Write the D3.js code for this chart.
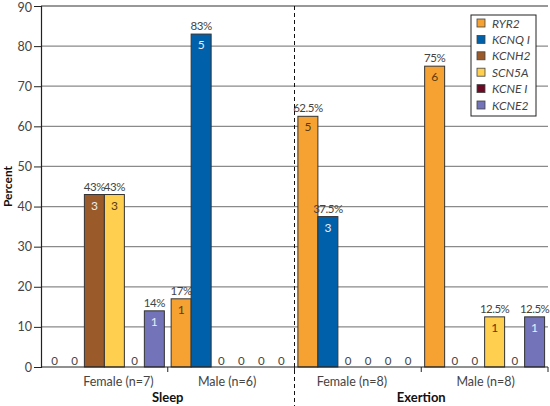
<!DOCTYPE html>
<html><head><meta charset="utf-8">
<script src="https://cdn.jsdelivr.net/npm/d3@7"></script>
<style>body{margin:0;background:#fff;} svg{display:block;font-family:Lato,"Open Sans",sans-serif;}</style>
</head><body><svg id="c" width="550" height="406"></svg>
<script>
const groups = ["Female (n=7)", "Male (n=6)", "Female (n=8)", "Male (n=8)"];
const genes = ["RYR2", "KCNQ1", "KCNH2", "SCN5A", "KCNE1", "KCNE2"];
const legendLabels = ["RYR2", "KCNQ I", "KCNH2", "SCN5A", "KCNE I", "KCNE2"];
const colors = ["#F5A233", "#0061AA", "#9B5A2A", "#FFCF4F", "#6B0A24", "#7273B9"];
const percentValues = [
  [0, 0, 43, 43, 0, 14],
  [17, 83, 0, 0, 0, 0],
  [62.5, 37.5, 0, 0, 0, 0],
  [75, 0, 0, 12.5, 0, 12.5]
];
const percentLabels = [
  ["0", "0", "43%", "43%", "0", "14%"],
  ["17%", "83%", "0", "0", "0", "0"],
  ["62.5%", "37.5%", "0", "0", "0", "0"],
  ["75%", "0", "0", "12.5%", "0", "12.5%"]
];
const counts = [
  [0, 0, 3, 3, 0, 1],
  [1, 5, 0, 0, 0, 0],
  [5, 3, 0, 0, 0, 0],
  [6, 0, 0, 1, 0, 1]
];
const conditions = ["Sleep", "Exertion"];
const yTicks = [0, 10, 20, 30, 40, 50, 60, 70, 80, 90];

const svg = d3.select("#c");
const L = 41, R = 548, T = 6, B = 367;
const labelShift = [14, -4, -6, 1]; // layout: category label offsets seen in the reference
const y = d3.scaleLinear().domain([0, 90]).range([B, T]);
const x0 = d3.scaleBand().domain(groups).range([L, R]).padding(0);
const x1 = d3.scaleBand().domain(genes).range([0, x0.bandwidth()]).paddingInner(0).paddingOuter(0.17);
const darkText = {RYR2: "#5a3a10", SCN5A: "#5a3a10"};

// gridlines
svg.append("g").selectAll("line").data(yTicks.filter(d => d > 0)).join("line")
  .attr("x1", L).attr("x2", R).attr("y1", d => y(d)).attr("y2", d => y(d))
  .attr("stroke", d => d === 90 ? "#333" : "#8a8a8a").attr("stroke-width", 1.2);

// y axis
const ya = svg.append("g").attr("transform", `translate(${L},0)`)
  .call(d3.axisLeft(y).tickValues(yTicks).tickSize(7).tickPadding(2));
ya.select(".domain").attr("stroke", "#222").attr("stroke-width", 1.2);
ya.selectAll(".tick line").attr("stroke", "#222");
ya.selectAll("text").attr("font-size", 12.5).attr("fill", "#444").attr("font-family", "Lato")
  .attr("dy", d => d === 90 ? "0.42em" : "0.32em");

// bars
const g = svg.append("g").selectAll("g").data(groups).join("g")
  .attr("transform", d => `translate(${x0(d)},0)`);
g.each(function(grp, gi) {
  const sel = d3.select(this);
  genes.forEach((gene, k) => {
    const v = percentValues[gi][k];
    const bx = x1(gene), bw = x1.bandwidth();
    if (v > 0) {
      sel.append("rect").attr("x", bx).attr("y", y(v)).attr("width", bw).attr("height", y(0) - y(v))
        .attr("fill", colors[k]).attr("stroke", "#333").attr("stroke-width", 1);
      sel.append("text").attr("x", bx + bw / 2).attr("y", y(v) + 15).attr("text-anchor", "middle")
        .attr("font-size", 12).attr("fill", darkText[gene] || "#e8eef8").text(counts[gi][k]);
    }
    sel.append("text").attr("x", bx + bw / 2).attr("y", v > 0 ? y(v) - 4 : y(0) - 2).attr("text-anchor", "middle")
      .attr("font-size", 11.5).attr("fill", "#444").attr("letter-spacing", -0.5).text(percentLabels[gi][k]);
  });
});

// x axis
const xa = svg.append("g").attr("transform", `translate(0,${B})`);
xa.append("line").attr("x1", L).attr("x2", R).attr("stroke", "#222").attr("stroke-width", 1.2);
xa.selectAll("line.t").data(groups.slice(1).concat(["end"])).join("line").attr("class", "t")
  .attr("x1", d => d === "end" ? R : x0(d)).attr("x2", d => d === "end" ? R : x0(d))
  .attr("y1", 0).attr("y2", 5).attr("stroke", "#222");
xa.selectAll("text").data(groups).join("text")
  .attr("x", (d, i) => x0(d) + x0.bandwidth() / 2 + labelShift[i]).attr("y", 18.5).attr("text-anchor", "middle")
  .attr("font-size", 12.5).attr("fill", "#444").text(d => d);

// condition labels
svg.selectAll("text.cond").data(conditions).join("text").attr("class", "cond")
  .attr("x", (d, i) => x0(groups[i * 2 + 1])).attr("y", 402).attr("text-anchor", "middle")
  .attr("font-size", 13).attr("font-weight", "bold").attr("fill", "#111").text(d => d);

// dashed separator
svg.append("line").attr("x1", x0(groups[2])).attr("x2", x0(groups[2])).attr("y1", T).attr("y2", 406)
  .attr("stroke", "#111").attr("stroke-dasharray", "4,3").attr("stroke-width", 1);

// y label
svg.append("text").attr("transform", `translate(12,${(T + B) / 2}) rotate(-90)`).attr("text-anchor", "middle")
  .attr("font-size", 12).attr("font-weight", "bold").attr("fill", "#111").text("Percent");

// legend
const lg = svg.append("g").attr("transform", "translate(471,15)");
lg.append("rect").attr("width", 65).attr("height", 101).attr("fill", "#fff").attr("stroke", "#222").attr("stroke-width", 1);
const items = lg.selectAll("g").data(legendLabels).join("g").attr("transform", (d, i) => `translate(6,${9 + i * 16.4})`);
items.append("rect").attr("x", 0).attr("y", -5).attr("width", 8).attr("height", 8)
  .attr("fill", (d, i) => colors[i]).attr("stroke", "#444").attr("stroke-width", 0.8);
items.append("text").attr("x", 15).attr("y", 3.5).attr("font-size", 12).attr("font-style", "italic")
  .attr("fill", "#444").text(d => d);
</script></body></html>
